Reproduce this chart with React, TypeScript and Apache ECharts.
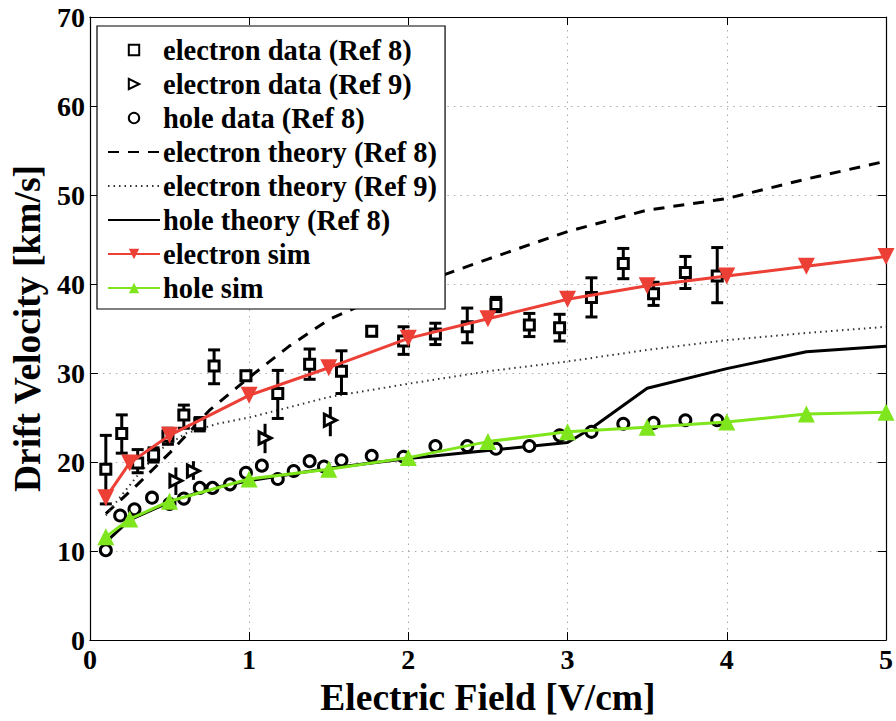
import React, { useEffect, useRef } from "react";
import * as echarts from "echarts";

// Electron data (Ref 8): x, value, error low, error high
const eRef8X = [0.1, 0.2, 0.3, 0.4, 0.49, 0.59, 0.69, 0.78, 0.98, 1.18, 1.38, 1.58, 1.77, 1.97, 2.17, 2.37, 2.55, 2.76, 2.95, 3.15, 3.35, 3.54, 3.74, 3.94];
const eRef8Y = [19.2, 23.2, 19.9, 20.8, 22.9, 25.3, 24.3, 30.8, 29.7, 27.7, 31.0, 30.2, 34.7, 33.6, 34.4, 35.2, 37.7, 35.4, 35.1, 38.5, 42.3, 38.9, 41.3, 40.9];
const eRef8Lo = [15.3, 21.0, 18.8, 20.0, 22.0, 23.8, 23.5, 28.8, 29.2, 24.9, 29.3, 27.7, 34.2, 32.1, 33.2, 33.4, 36.9, 34.1, 33.6, 36.3, 40.6, 37.6, 39.5, 37.9];
const eRef8Hi = [23.0, 25.3, 21.4, 21.6, 23.8, 26.4, 25.0, 32.6, 30.2, 30.3, 32.7, 32.5, 35.2, 35.2, 35.6, 37.3, 38.5, 36.7, 36.6, 40.7, 44.0, 40.2, 43.1, 44.1];

// Electron data (Ref 9)
const eRef9X = [0.54, 0.65, 1.1, 1.51];
const eRef9Y = [17.9, 19.0, 22.7, 24.7];
const eRef9Lo = [16.3, 18.0, 21.0, 22.9];
const eRef9Hi = [19.4, 20.1, 24.3, 26.2];

// Hole data (Ref 8)
const hRef8X = [0.1, 0.19, 0.28, 0.39, 0.5, 0.59, 0.69, 0.77, 0.88, 0.98, 1.08, 1.18, 1.28, 1.38, 1.47, 1.58, 1.77, 1.97, 2.17, 2.37, 2.55, 2.76, 2.95, 3.15, 3.35, 3.54, 3.74, 3.94];
const hRef8Y = [10.1, 14.0, 14.7, 16.0, 15.3, 15.9, 17.1, 17.1, 17.5, 18.8, 19.6, 18.1, 19.0, 20.1, 19.5, 20.2, 20.7, 20.6, 21.8, 21.8, 21.5, 21.8, 23.0, 23.4, 24.3, 24.4, 24.7, 24.7];

// Theory curves
const eTh8X = [0.1, 0.3, 0.5, 0.75, 1.0, 1.25, 1.5, 1.75, 2.0, 2.5, 3.0, 3.5, 4.0, 4.5, 5.0];
const eTh8Y = [14.2, 17.5, 21.0, 25.8, 29.5, 33.0, 36.0, 38.0, 39.6, 42.8, 45.9, 48.3, 49.6, 51.8, 53.8];
const eTh9X = [0.1, 0.2, 0.3, 0.45, 0.6, 0.8, 1.0, 1.5, 2.0, 2.5, 3.0, 3.5, 4.0, 4.5, 5.0];
const eTh9Y = [14.0, 16.3, 18.5, 21.5, 23.2, 24.3, 25.0, 27.3, 28.8, 30.2, 31.3, 32.6, 33.7, 34.5, 35.2];
const hThX = [0.1, 0.25, 0.5, 0.75, 1.0, 1.5, 2.0, 2.5, 3.0, 3.15, 3.5, 4.0, 4.5, 5.0];
const hThY = [11.0, 13.5, 15.5, 17.0, 17.9, 19.3, 20.4, 21.3, 22.2, 23.8, 28.3, 30.5, 32.4, 33.0];

// Simulations
const simX = [0.1, 0.25, 0.5, 1.0, 1.5, 2.0, 2.5, 3.0, 3.5, 4.0, 4.5, 5.0];
const eSimY = [16.0, 19.9, 23.0, 27.5, 30.6, 33.9, 36.1, 38.3, 39.8, 40.9, 42.0, 43.1];
const hSimY = [11.6, 13.6, 15.6, 18.1, 19.2, 20.5, 22.3, 23.4, 23.9, 24.5, 25.4, 25.6];

const names = [
  "electron data (Ref 8)",
  "electron data (Ref 9)",
  "hole data (Ref 8)",
  "electron theory (Ref 8)",
  "electron theory (Ref 9)",
  "hole theory (Ref 8)",
  "electron sim",
  "hole sim",
];
const lineOnly = new Set(["electron theory (Ref 8)", "electron theory (Ref 9)", "hole theory (Ref 8)"]);

const FONT = "Liberation Serif, Times New Roman, serif";
const RED = "#ec3f35";
const GREEN = "#7fe51c";

const zip = (a: number[], b: number[]) => a.map((v, i) => [v, b[i]]);
const zip3 = (a: number[], b: number[], c: number[]) => a.map((v, i) => [v, b[i], c[i]]);

function errorBars(capHalf: number) {
  return (params: any, api: any) => {
    const x = api.value(0);
    const lo = api.coord([x, api.value(1)]);
    const hi = api.coord([x, api.value(2)]);
    const style = { stroke: "#000", lineWidth: 3 };
    const children: any[] = [
      { type: "line", shape: { x1: lo[0], y1: lo[1], x2: hi[0], y2: hi[1] }, style },
    ];
    if (capHalf > 0) {
      children.push({ type: "line", shape: { x1: lo[0] - capHalf, y1: lo[1], x2: lo[0] + capHalf, y2: lo[1] }, style });
      children.push({ type: "line", shape: { x1: hi[0] - capHalf, y1: hi[1], x2: hi[0] + capHalf, y2: hi[1] }, style });
    }
    return { type: "group", children };
  };
}

function markerSeries(name: string, xs: number[], ys: number[], symbol: string, size: number, rotate: number) {
  return {
    name,
    type: "line",
    data: zip(xs, ys),
    symbol,
    symbolRotate: rotate,
    symbolSize: size,
    showSymbol: true,
    lineStyle: { width: 0, opacity: 0 },
    itemStyle: { color: "#fff", borderColor: "#000", borderWidth: 3 },
    z: 4,
  };
}

export default function App() {
  const ref = useRef<HTMLDivElement>(null);
  useEffect(() => {
    if (!ref.current) return;
    const chart = echarts.init(ref.current, undefined, { renderer: "svg" });
    const axisLabelStyle = { fontFamily: FONT, fontWeight: "bold", fontSize: 28, color: "#000" };
    chart.setOption({
      animation: false,
      backgroundColor: "#fff",
      grid: { left: 88, top: 17, width: 799, height: 633, show: false },
      legend: {
        data: names.map((n) =>
          lineOnly.has(n) ? { name: n, itemStyle: { opacity: 0 } } : { name: n }
        ),
        orient: "vertical",
        left: 97,
        top: 26,
        backgroundColor: "#fff",
        borderColor: "#000",
        borderWidth: 1.2,
        borderRadius: 0,
        padding: [9, 8, 6, 10],
        itemWidth: 52,
        itemHeight: 13,
        itemGap: 4,
        textStyle: { fontFamily: FONT, fontWeight: "bold", fontSize: 28.5, color: "#000", lineHeight: 30, padding: [0, 0, 0, -2] },
        z: 10,
      },
      xAxis: [
        {
          type: "value",
          min: 0,
          max: 5,
          interval: 1,
          name: "Electric Field [V/cm]",
          nameLocation: "middle",
          nameGap: 28,
          nameTextStyle: { fontFamily: FONT, fontWeight: "bold", fontSize: 37.5, color: "#000", verticalAlign: "top" },
          axisLine: { show: true, onZero: false, lineStyle: { color: "#000", width: 1.2 } },
          axisTick: { show: true, inside: true, length: 8, lineStyle: { color: "#000", width: 1 } },
          axisLabel: { ...axisLabelStyle, margin: 5 },
          splitLine: { show: true, lineStyle: { color: "#aaa", type: [1.5, 5], width: 1 } },
        },
        {
          type: "value",
          position: "top",
          min: 0,
          max: 5,
          interval: 1,
          axisLine: { show: true, onZero: false, lineStyle: { color: "#000", width: 1.2 } },
          axisTick: { show: true, inside: true, length: 8, lineStyle: { color: "#000", width: 1 } },
          axisLabel: { show: false },
          splitLine: { show: false },
        },
      ],
      yAxis: [
        {
          type: "value",
          min: 0,
          max: 70,
          interval: 10,
          name: "Drift Velocity [km/s]",
          nameLocation: "middle",
          nameGap: 41,
          nameRotate: 90,
          nameTextStyle: { fontFamily: FONT, fontWeight: "bold", fontSize: 37.5, color: "#000" },
          axisLine: { show: true, onZero: false, lineStyle: { color: "#000", width: 1.2 } },
          axisTick: { show: true, inside: true, length: 8, lineStyle: { color: "#000", width: 1 } },
          axisLabel: { ...axisLabelStyle, margin: 5 },
          splitLine: { show: true, lineStyle: { color: "#aaa", type: [1.5, 5], width: 1 } },
        },
        {
          type: "value",
          position: "right",
          min: 0,
          max: 70,
          interval: 10,
          axisLine: { show: true, onZero: false, lineStyle: { color: "#000", width: 1.2 } },
          axisTick: { show: true, inside: true, length: 8, lineStyle: { color: "#000", width: 1 } },
          axisLabel: { show: false },
          splitLine: { show: false },
        },
      ],
      series: [
        {
          name: "electron theory (Ref 8)",
          type: "line",
          data: zip(eTh8X, eTh8Y),
          symbol: "none",
          lineStyle: { color: "#000", width: 3, type: [11, 9] },
          itemStyle: { color: "#000" },
          z: 2,
        },
        {
          name: "electron theory (Ref 9)",
          type: "line",
          data: zip(eTh9X, eTh9Y),
          symbol: "none",
          lineStyle: { color: "#333", width: 2, type: [1.5, 4] },
          itemStyle: { color: "#333" },
          z: 2,
        },
        {
          name: "hole theory (Ref 8)",
          type: "line",
          data: zip(hThX, hThY),
          symbol: "none",
          lineStyle: { color: "#000", width: 3 },
          itemStyle: { color: "#000" },
          z: 2,
        },
        {
          name: "errRef8",
          type: "custom",
          renderItem: errorBars(6),
          data: zip3(eRef8X, eRef8Lo, eRef8Hi),
          encode: { x: 0, y: [1, 2] },
          z: 3,
          silent: true,
        },
        {
          name: "errRef9",
          type: "custom",
          renderItem: errorBars(0),
          data: zip3(eRef9X, eRef9Lo, eRef9Hi),
          encode: { x: 0, y: [1, 2] },
          z: 3,
          silent: true,
        },
        markerSeries("electron data (Ref 8)", eRef8X, eRef8Y, "rect", 10, 0),
        markerSeries("electron data (Ref 9)", eRef9X, eRef9Y, "triangle", 12, -90),
        markerSeries("hole data (Ref 8)", hRef8X, hRef8Y, "circle", 11, 0),
        {
          name: "electron sim",
          type: "line",
          data: zip(simX, eSimY),
          symbol: "triangle",
          symbolRotate: 180,
          symbolSize: 17,
          lineStyle: { color: RED, width: 3 },
          itemStyle: { color: RED },
          z: 5,
        },
        {
          name: "hole sim",
          type: "line",
          data: zip(simX, hSimY),
          symbol: "triangle",
          symbolSize: 17,
          lineStyle: { color: GREEN, width: 3 },
          itemStyle: { color: GREEN },
          z: 5,
        },
      ],
    });
    return () => chart.dispose();
  }, []);
  return (
    <div
      ref={ref}
      style={{ position: "absolute", left: 0, top: 0, width: 896, height: 721, background: "#fff" }}
    />
  );
}
